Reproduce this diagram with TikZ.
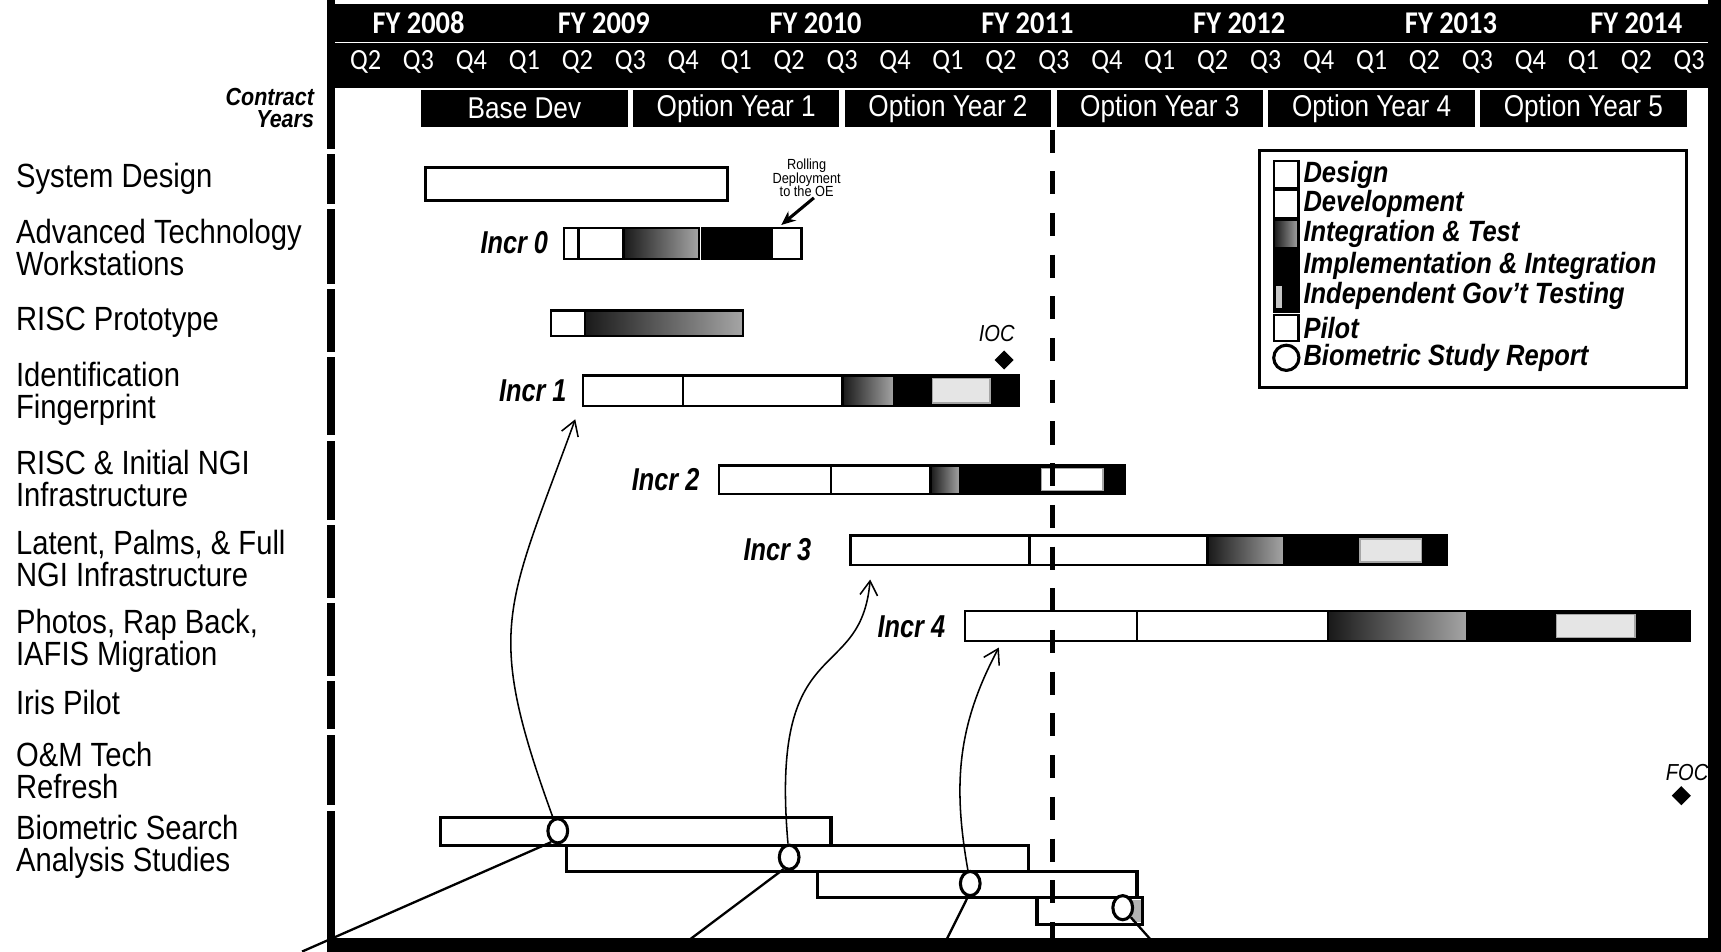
\documentclass[tikz,border=0pt]{standalone}
\usepackage{fontspec}
\setmainfont{Liberation Sans}[FakeStretch=0.87]
\newfontfamily\hdrfont{Carlito}[FakeStretch=0.9]
\newfontfamily\incrfont{Liberation Sans}[FakeStretch=0.8]
\usepackage{tikz}
\usetikzlibrary{shapes.geometric, arrows.meta}

\begin{document}
\begin{tikzpicture}[x=4.824mm, y=1mm,
    >={Straight Barb[length=1.3mm, width=1.6mm]},
    seg/.style={draw=black, semithick},
    design/.style={seg, fill=white},
    integ/.style={seg, left color=black!90, right color=black!35},
    implem/.style={seg, fill=black},
    inset/.style={draw=gray!70, fill=gray!20},
    study/.style={draw=black, thick, fill=white},
    report/.style={ellipse, draw=black, thick, fill=white, inner sep=0pt, minimum width=1.8mm, minimum height=2.2mm},
    rowlabel/.style={anchor=west, align=left, inner sep=0pt, font=\fontsize{8.7}{8.3}\selectfont},
    incrlabel/.style={anchor=east, inner sep=0pt, font=\incrfont\bfseries\itshape\fontsize{8.2}{9}\selectfont},
    fy/.style={text=white, inner sep=0pt, font=\hdrfont\bfseries\fontsize{8.2}{9}\selectfont},
    qtr/.style={text=white, inner sep=0pt, font=\hdrfont\fontsize{7.6}{9}\selectfont},
    cyear/.style={fill=black, text=white, minimum width=18.8mm, minimum height=3.4mm, inner sep=0pt, font=\fontsize{7.8}{9}\selectfont},
    legtext/.style={anchor=west, inner sep=0pt, font=\bfseries\itshape\fontsize{7.6}{9}\selectfont},
    milestone/.style={diamond, fill=black, inner sep=0pt, minimum size=1.8mm},
    msname/.style={inner sep=0pt, font=\itshape\fontsize{6}{7}\selectfont}]

    \useasboundingbox (-6.405,0) rectangle (26.10,-86.7);

    % header: fiscal years and quarters
    \fill[black] (-0.23,-0.4) rectangle (26.10,-8.0);
    \draw[white, line width=0.3pt] (-0.08,-3.85) -- (25.85,-3.85);
    \node[fy] (fy08) at (1.5,-2.1) {FY 2008};
    \node[fy] (fy09) at (5,-2.1) {FY 2009};
    \node[fy] (fy10) at (9,-2.1) {FY 2010};
    \node[fy] (fy11) at (13,-2.1) {FY 2011};
    \node[fy] (fy12) at (17,-2.1) {FY 2012};
    \node[fy] (fy13) at (21,-2.1) {FY 2013};
    \node[fy] (fy14) at (24.5,-2.1) {FY 2014};
    \foreach \q [count=\i from 0] in {2,3,4,1,2,3,4,1,2,3,4,1,2,3,4,1,2,3,4,1,2,3,4,1,2,3}
        \node[qtr] (q\i) at (\i+0.5,-5.6) {Q\q};

    % contract years
    \node[anchor=east, align=right, inner sep=0pt, font=\bfseries\itshape\fontsize{6.4}{5.7}\selectfont] (contract) at (-0.46,-9.8) {Contract\\Years};
    \node[cyear] (base) at (3.5,-9.9) {Base Dev};
    \node[cyear] (opt1) at (7.5,-9.9) {Option Year 1};
    \node[cyear] (opt2) at (11.5,-9.9) {Option Year 2};
    \node[cyear] (opt3) at (15.5,-9.9) {Option Year 3};
    \node[cyear] (opt4) at (19.5,-9.9) {Option Year 4};
    \node[cyear] (opt5) at (23.5,-9.9) {Option Year 5};

    % frame
    \draw[line width=0.7mm] (-0.155,0) -- (-0.155,-86.7);
    \foreach \g in {13.8,18.8,26.1,32.3,39.9,47.6,54.7,61.8,66.7,73.6}
        \fill[white] (-0.26,-\g+0.25) rectangle (-0.07,-\g-0.25);
    \fill[black] (25.86,0) rectangle (26.10,-86.7);

    % row labels
    \node[rowlabel] (sysdesign) at (-6.115,-16.3) {System Design};
    \node[rowlabel] (atw) at (-6.115,-22.55) {Advanced Technology\\Workstations};
    \node[rowlabel] (riscproto) at (-6.115,-29.4) {RISC Prototype};
    \node[rowlabel] (idfp) at (-6.115,-35.85) {Identification\\Fingerprint};
    \node[rowlabel] (riscngi) at (-6.115,-43.6) {RISC \& Initial NGI\\Infrastructure};
    \node[rowlabel] (latent) at (-6.115,-50.85) {Latent, Palms, \& Full\\NGI Infrastructure};
    \node[rowlabel] (photos) at (-6.115,-58.35) {Photos, Rap Back,\\IAFIS Migration};
    \node[rowlabel] (iris) at (-6.115,-64.0) {Iris Pilot};
    \node[rowlabel] (omtech) at (-6.115,-70.2) {O\&M Tech\\Refresh};
    \node[rowlabel] (biosearch) at (-6.115,-77.15) {Biometric Search\\Analysis Studies};

    % system design
    \draw[design, thick] (1.64,-15.3) rectangle (7.34,-18.3);

    % incr 0
    \node[incrlabel] (incr0) at (3.96,-22.1) {Incr 0};
    \draw[design] (4.25,-20.8) rectangle (4.52,-23.6);
    \draw[design] (4.52,-20.8) rectangle (5.37,-23.6);
    \draw[integ] (5.37,-20.8) rectangle (6.80,-23.6);
    \draw[implem] (6.86,-20.8) rectangle (8.17,-23.6);
    \draw[design] (8.17,-20.8) rectangle (8.73,-23.6);
    \node[align=center, inner sep=0pt, font=\fontsize{3.8}{3.6}\selectfont] (rolling) at (8.83,-16.2) {Rolling\\Deployment\\to the OE};
    \coordinate (incr0-end) at (8.35,-20.5);
    \draw[-{Stealth[length=1.3mm, width=1.1mm]}, thick] (rolling.-70) -- (incr0-end);

    % risc prototype
    \draw[design] (4.0,-28.3) rectangle (4.64,-30.6);
    \draw[integ] (4.64,-28.3) rectangle (7.63,-30.6);

    % incr 1
    \node[incrlabel] (incr1) at (4.31,-35.6) {Incr 1};
    \draw[design] (4.60,-34.2) rectangle (6.49,-37.0);
    \draw[design] (6.49,-34.2) rectangle (9.51,-37.0);
    \draw[integ] (9.51,-34.2) rectangle (10.49,-37.0);
    \draw[implem] (10.49,-34.2) rectangle (12.83,-37.0);
    \draw[inset] (11.21,-34.5) rectangle (12.29,-36.7);
    \node[msname] (ioclabel) at (12.42,-30.4) {IOC};
    \node[milestone] (ioc) at (12.56,-32.8) {};

    % incr 2
    \node[incrlabel] (incr2) at (6.82,-43.7) {Incr 2};
    \draw[design] (7.17,-42.4) rectangle (9.29,-45.0);
    \draw[design] (9.29,-42.4) rectangle (11.17,-45.0);
    \draw[integ] (11.17,-42.4) rectangle (11.73,-45.0);
    \draw[implem] (11.73,-42.4) rectangle (14.84,-45.0);
    \draw[inset, fill=white] (13.27,-42.7) rectangle (14.43,-44.7);

    % incr 3
    \node[incrlabel] (incr3) at (8.93,-50.1) {Incr 3};
    \draw[design] (9.66,-48.8) rectangle (13.04,-51.5);
    \draw[design] (13.04,-48.8) rectangle (16.40,-51.5);
    \draw[integ] (16.40,-48.8) rectangle (17.85,-51.5);
    \draw[implem] (17.85,-48.8) rectangle (20.92,-51.5);
    \draw[inset] (19.28,-49.1) rectangle (20.44,-51.2);

    % incr 4
    \node[incrlabel] (incr4) at (11.46,-57.1) {Incr 4};
    \draw[design] (11.82,-55.7) rectangle (15.07,-58.4);
    \draw[design] (15.07,-55.7) rectangle (18.68,-58.4);
    \draw[integ] (18.68,-55.7) rectangle (21.31,-58.4);
    \draw[implem] (21.31,-55.7) rectangle (25.52,-58.4);
    \draw[inset] (22.99,-56.0) rectangle (24.48,-58.1);

    % FOC
    \node[msname] (foclabel) at (25.46,-70.4) {FOC};
    \node[milestone] (foc) at (25.35,-72.5) {};

    % biometric studies
    \draw[study] (1.91,-74.5) rectangle (9.29,-77.0);
    \draw[study] (4.29,-77.0) rectangle (13.02,-79.4);
    \draw[study] (9.04,-79.4) rectangle (15.07,-81.8);
    \draw[study] (13.18,-81.8) rectangle (15.17,-84.2);
    \fill[gray!60] (14.98,-82.0) rectangle (15.14,-84.0);
    \node[report] (rep1) at (4.13,-75.7) {};
    \node[report] (rep2) at (8.50,-78.1) {};
    \node[report] (rep3) at (11.92,-80.5) {};
    \node[report] (rep4) at (14.80,-82.7) {};

    % cut-over line
    \draw[line width=0.5mm, dash pattern=on 2.1mm off 1.7mm] (13.47,-11.8) -- (13.47,-86.7);

    % study reports feed the increments
    \coordinate (incr1-in) at (4.46,-38.2);
    \coordinate (incr3-in) at (10.03,-52.8);
    \coordinate (incr4-in) at (12.46,-59.0);
    \draw[->] (rep1) to[out=110, in=-110, looseness=1.3] (incr1-in);
    \draw[->] (rep2) to[out=95, in=-95, out looseness=2, in looseness=1] (incr3-in);
    \draw[->] (rep3) to[out=100, in=-118] (incr4-in);

    % lines running off the page
    \coordinate (foot1) at (-0.70,-86.7);
    \coordinate (foot2) at (6.32,-86.7);
    \coordinate (foot3) at (11.36,-86.7);
    \coordinate (foot4) at (15.53,-86.7);
    \draw[semithick] (rep1.-120) -- (foot1);
    \draw[semithick] (rep2.-115) -- (foot2);
    \draw[semithick] (rep3.-100) -- (foot3);
    \draw[semithick] (rep4.-50) -- (foot4);
    \fill[black] (-0.23,-85.5) rectangle (26.10,-86.7);

    % legend
    \draw[thick] (17.39,-13.7) rectangle (25.45,-35.3);
    \draw[design] (17.66,-14.7) rectangle (18.12,-17.1);
    \draw[design] (17.66,-17.3) rectangle (18.12,-19.9);
    \draw[integ] (17.66,-20.0) rectangle (18.12,-22.6);
    \draw[implem] (17.66,-22.8) rectangle (18.12,-25.6);
    \draw[implem] (17.66,-25.8) rectangle (18.12,-28.4);
    \fill[gray!45] (17.69,-26.1) rectangle (17.80,-28.1);
    \draw[design] (17.66,-28.7) rectangle (18.12,-31.1);
    \node[report, minimum width=2.3mm, minimum height=2.3mm] (legrep) at (17.89,-32.6) {};
    \node[legtext] (legdesign) at (18.2,-15.9) {Design};
    \node[legtext] (legdevel) at (18.2,-18.6) {Development};
    \node[legtext] (leginteg) at (18.2,-21.3) {Integration \& Test};
    \node[legtext] (legimpl) at (18.2,-24.2) {Implementation \& Integration};
    \node[legtext] (leggov) at (18.2,-27.0) {Independent Gov’t Testing};
    \node[legtext] (legpilot) at (18.2,-29.9) {Pilot};
    \node[legtext] (legrepname) at (18.2,-32.6) {Biometric Study Report};
\end{tikzpicture}
\end{document}
